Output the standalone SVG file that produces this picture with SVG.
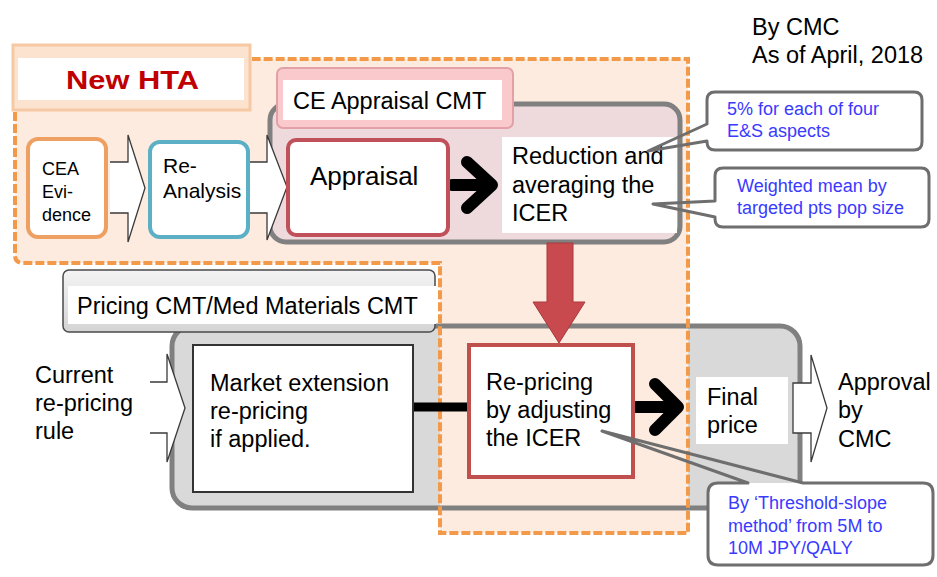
<svg xmlns="http://www.w3.org/2000/svg" width="937" height="577" viewBox="0 0 937 577">
  <defs>
    <linearGradient id="labelGray" x1="0" y1="0" x2="0" y2="1">
      <stop offset="0" stop-color="#f4f4f4"/>
      <stop offset="1" stop-color="#d4d4d4"/>
    </linearGradient>
    <style>
      text { font-family: "Liberation Sans", Arial, sans-serif; fill: #000; }
      .lbl { font-size: 23.5px; }
      .sm { font-size: 18px; }
      .note { font-size: 18px; fill: #3a3aff; }
      .white { fill: #fff; }
      .panel { stroke: #808080; stroke-width: 5; }
      .hollow { fill: #fff; stroke: #3a3a3a; stroke-width: 1.3; stroke-linejoin: miter; }
      .bold-arrow { fill: none; stroke: #000; stroke-width: 12; stroke-linecap: round; stroke-linejoin: round; }
      .callout-bg { fill: #fff; }
      .callout { fill: none; stroke: #6e6e6e; stroke-width: 3; stroke-linejoin: round; }
    </style>
  </defs>

  <rect width="937" height="577" fill="#fff"/>

  <!-- Pricing committee panel background -->
  <rect id="pricing-panel-fill" x="172" y="326" width="628" height="182" rx="20" fill="#d9d9d9"/>

  <!-- New HTA scope: peach fill -->
  <g id="new-hta-scope">
    <path d="M15,110 V255 Q15,263 23,263 H440 V533 H688 V59 H250 V110 Z" fill="#fdebdf"/>
    <rect x="13" y="45" width="237" height="65" fill="#fbe3d0" stroke="#f6c9a4" stroke-width="3"/>
  </g>

  <!-- Pricing committee panel outline -->
  <rect id="pricing-panel" class="panel" x="172" y="326" width="628" height="182" rx="20" fill="none" stroke-width="6"/>

  <!-- New HTA scope: dashed outline -->
  <path id="new-hta-border" d="M15,112 V255 Q15,263 23,263 H440 V533 H688 V59 H252" fill="none" stroke="#f39a4a" stroke-width="4" stroke-dasharray="9 3"/>

  <!-- New HTA title -->
  <g id="new-hta-title">
    <rect x="18" y="58" width="226" height="42" fill="#fff"/>
    <text x="66" y="89" font-size="26" font-weight="bold" style="fill:#c00000" textLength="133" lengthAdjust="spacingAndGlyphs">New HTA</text>
  </g>

  <!-- CE appraisal committee panel -->
  <g id="ce-appraisal-panel">
    <rect class="panel" x="270" y="104" width="410" height="138" rx="16" fill="#eedadc"/>
    <rect x="277" y="68" width="236" height="60" rx="6" fill="#f9c9cc" stroke="#e2a1a7" stroke-width="2"/>
    <rect class="white" x="283" y="80" width="219" height="40"/>
    <text class="lbl" x="293" y="109">CE Appraisal CMT</text>
  </g>

  <!-- Pricing committee label -->
  <g id="pricing-label">
    <rect x="63" y="270" width="372" height="62" rx="6" fill="url(#labelGray)" stroke="#4a4a4a" stroke-width="1.5"/>
    <rect class="white" x="68" y="286" width="368" height="38"/>
    <text class="lbl" x="77" y="314">Pricing CMT/Med Materials CMT</text>
  </g>

  <!-- Connectors -->
  <g id="connectors">
    <!-- CEA evidence to re-analysis -->
    <path class="hollow" d="M110,162 H128 V135 L145,188 L128,242 V213 H110"/>
    <!-- re-analysis to appraisal -->
    <path class="hollow" d="M250,162 H267 V135 L287,187 L267,240 V213 H250"/>
    <!-- appraisal to reduction -->
    <line class="bold-arrow" x1="452" y1="185" x2="488" y2="185"/>
    <polyline class="bold-arrow" points="467,162 492,185 467,208"/>
    <!-- reduction/averaging down to re-pricing -->
    <path d="M547,243 H573 V302 H585 L559,343 L533,302 H547 Z" fill="#c84a4e" stroke="#a8383c" stroke-width="1"/>
    <!-- current rule to market extension -->
    <path class="hollow" d="M150,382 H167 V354 L185,408 L167,462 V433 H150"/>
    <!-- market extension to re-pricing -->
    <line x1="413" y1="407" x2="470" y2="407" stroke="#000" stroke-width="9"/>
    <!-- re-pricing to final price -->
    <line class="bold-arrow" x1="636" y1="407" x2="674" y2="407"/>
    <polyline class="bold-arrow" points="655,384 678,407 655,430"/>
    <!-- final price to approval -->
    <path class="hollow" d="M793,383 H811 V355 L827,408 L811,462 V433 H793 Z"/>
  </g>

  <!-- Nodes -->
  <g id="cea-evidence">
    <rect x="28" y="139" width="78" height="98" rx="10" fill="#fff" stroke="#eea062" stroke-width="4"/>
    <text class="sm" x="42" y="175">CEA</text>
    <text class="sm" x="42" y="198">Evi-</text>
    <text class="sm" x="42" y="221">dence</text>
  </g>

  <g id="re-analysis">
    <rect x="150" y="142" width="98" height="95" rx="10" fill="#fff" stroke="#5cb0c6" stroke-width="4"/>
    <text x="163" y="173" font-size="21">Re-</text>
    <text x="163" y="198" font-size="21">Analysis</text>
  </g>

  <g id="appraisal">
    <rect x="288" y="140" width="160" height="95" rx="8" fill="#fff" stroke="#c0505a" stroke-width="4"/>
    <text x="310" y="185" font-size="26">Appraisal</text>
  </g>

  <g id="reduction-averaging">
    <rect class="white" x="502" y="137" width="175" height="96"/>
    <text class="lbl" x="512" y="164">Reduction and</text>
    <text class="lbl" x="512" y="193">averaging the</text>
    <text class="lbl" x="512" y="221">ICER</text>
  </g>

  <g id="current-rule">
    <text class="lbl" x="35" y="383">Current</text>
    <text class="lbl" x="35" y="411">re-pricing</text>
    <text class="lbl" x="35" y="439">rule</text>
  </g>

  <g id="market-extension">
    <rect x="193" y="345" width="220" height="147" fill="#fff" stroke="#333" stroke-width="2"/>
    <text class="lbl" x="210" y="391">Market extension</text>
    <text class="lbl" x="210" y="419">re-pricing</text>
    <text class="lbl" x="210" y="447">if applied.</text>
  </g>

  <g id="re-pricing">
    <rect x="469" y="345" width="164" height="132" fill="#fff" stroke="#c0504d" stroke-width="4"/>
    <text class="lbl" x="486" y="390">Re-pricing</text>
    <text class="lbl" x="486" y="418">by adjusting</text>
    <text class="lbl" x="486" y="446">the ICER</text>
  </g>

  <g id="final-price">
    <rect class="white" x="696" y="377" width="92" height="67"/>
    <text class="lbl" x="707" y="405">Final</text>
    <text class="lbl" x="707" y="433">price</text>
  </g>

  <g id="approval">
    <text class="lbl" x="838" y="390">Approval</text>
    <text class="lbl" x="838" y="418">by</text>
    <text class="lbl" x="838" y="447">CMC</text>
  </g>

  <g id="date-note">
    <text class="lbl" x="752" y="35">By CMC</text>
    <text class="lbl" x="752" y="63">As of April, 2018</text>
  </g>

  <!-- Callouts -->
  <g id="callout-es-aspects">
    <rect class="callout-bg" x="707" y="92" width="215" height="58" rx="8"/>
    <path class="callout" d="M715,92 H914 Q922,92 922,100 V142 Q922,150 914,150 H715 Q707,150 707,142 V141 L648,151 L707,124 V100 Q707,92 715,92 Z"/>
    <text class="note" x="727" y="115">5% for each of four</text>
    <text class="note" x="727" y="137">E&amp;S aspects</text>
  </g>

  <g id="callout-weighted-mean">
    <rect class="callout-bg" x="715" y="168" width="214" height="59" rx="8"/>
    <path class="callout" d="M723,168 H921 Q929,168 929,176 V219 Q929,227 921,227 H723 Q715,227 715,219 V217 L653,204 L715,201 V176 Q715,168 723,168 Z"/>
    <text class="note" x="737" y="192">Weighted mean by</text>
    <text class="note" x="737" y="214">targeted pts pop size</text>
  </g>

  <g id="callout-threshold-slope">
    <rect class="callout-bg" x="708" y="483" width="225" height="82" rx="10"/>
    <path class="callout" d="M718,483 H748 L602,431 L803,483 H923 Q933,483 933,493 V555 Q933,565 923,565 H718 Q708,565 708,555 V493 Q708,483 718,483 Z"/>
    <text class="note" x="728" y="509">By ‘Threshold-slope</text>
    <text class="note" x="728" y="532">method’ from 5M to</text>
    <text class="note" x="728" y="554">10M JPY/QALY</text>
  </g>
</svg>
